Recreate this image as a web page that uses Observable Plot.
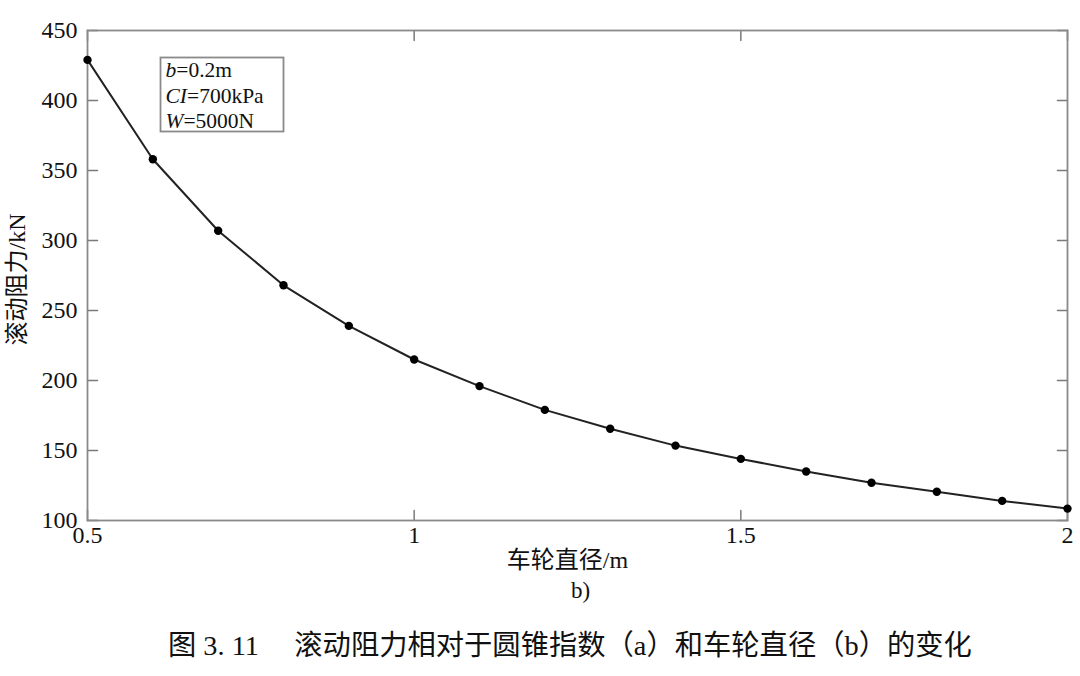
<!DOCTYPE html>
<html>
<head>
<meta charset="utf-8">
<script src="https://cdn.jsdelivr.net/npm/d3@7"></script>
<script src="https://cdn.jsdelivr.net/npm/@observablehq/plot@0.6"></script>
<style>
  body { margin: 0; background: #fff; }
  #chart svg { display: block; }
  #caption {
    font-family: "Liberation Serif", "Noto Sans CJK SC", serif;
    font-size: 28.3px;
    line-height: 30px;
    padding-top: 19px;
    padding-left: 168px;
    color: #111;
    white-space: pre;
  }
</style>
</head>
<body>
<div id="chart"></div>
<div id="caption"></div>
<script>
// ---- data ----
const diameters = [0.5, 0.6, 0.7, 0.8, 0.9, 1.0, 1.1, 1.2, 1.3, 1.4, 1.5, 1.6, 1.7, 1.8, 1.9, 2.0];
const resistance = [429, 358, 307, 268, 239, 215, 196, 179, 165.5, 153.5, 144, 135, 127, 120.5, 114, 108.5];
const xTicks = [0.5, 1, 1.5, 2];
const yTicks = [100, 150, 200, 250, 300, 350, 400, 450];
const xTickLabels = ["0.5", "1", "1.5", "2"];
const legendSymbols = ["b", "CI", "W"];
const legendValues = ["=0.2m", "=700kPa", "=5000N"];
const xLabel = "车轮直径/m";
const yLabel = "滚动阻力/kN";
const subLabel = "b)";
const captionText = "图 3. 11\u2003 滚动阻力相对于圆锥指数（a）和车轮直径（b）的变化";

const data = diameters.map((d, i) => ({d, f: resistance[i]}));
const serif = "Liberation Serif, Noto Sans CJK SC, serif";
const frameColor = "#8a8a8a";
const tickShape = {draw(context, l) { context.moveTo(0, 0); context.lineTo(0, -l); }};
const tickOpts = {length: 10, anchor: "start", shape: tickShape, stroke: "#7a7a7a", strokeWidth: 1.5};

const chart = Plot.plot({
  width: 1080,
  height: 612,
  marginLeft: 87,
  marginRight: 13,
  marginTop: 30,
  marginBottom: 92,
  style: {fontFamily: serif, fontSize: "24px", color: "#111", background: "#fff"},
  x: {domain: [0.5, 2]},
  y: {domain: [100, 450]},
  marks: [
    // inward ticks on all four sides
    Plot.vector(xTicks, {x: d => d, y: 100, rotate: 0, ...tickOpts}),
    Plot.vector(xTicks, {x: d => d, y: 450, rotate: 180, ...tickOpts}),
    Plot.vector(yTicks, {x: 0.5, y: d => d, rotate: 90, ...tickOpts}),
    Plot.vector(yTicks, {x: 2, y: d => d, rotate: -90, ...tickOpts}),
    Plot.frame({stroke: frameColor, strokeWidth: 1.8}),
    Plot.axisX(xTicks, {tickSize: 0, tickPadding: 5, fontSize: 24, label: null, tickFormat: (d, i) => xTickLabels[i]}),
    Plot.axisY(yTicks, {tickSize: 0, tickPadding: 10, fontSize: 24, label: null}),
    Plot.line(data, {x: "d", y: "f", stroke: "#222", strokeWidth: 2}),
    Plot.dot(data, {x: "d", y: "f", r: 4.2, fill: "#000", stroke: "none"}),
    // legend box
    Plot.frame({stroke: frameColor, strokeWidth: 1.8, insetLeft: 73, insetTop: 27, insetRight: 784, insetBottom: 389}),
    Plot.text([legendSymbols.map((s, i) => s + legendValues[i]).join("\n")], {
      frameAnchor: "top-left", dx: 78, dy: 29, textAnchor: "start", lineAnchor: "top",
      lineHeight: 1.17, fontSize: 21.5, fill: "#111", className: "legend-text"
    }),
    // axis titles
    Plot.text([yLabel], {frameAnchor: "left", dx: -70, dy: 4, rotate: -90, textAnchor: "middle", fontSize: 24, fill: "#111"}),
    Plot.text([xLabel], {frameAnchor: "bottom", dx: -10, dy: 47, textAnchor: "middle", fontSize: 24, fill: "#111"}),
    Plot.text([subLabel], {frameAnchor: "bottom", dx: 3, dy: 77, textAnchor: "middle", fontSize: 23, fill: "#111"})
  ]
});

// italicize the symbols in the legend
d3.select(chart).selectAll(".legend-text tspan").each(function(_, i) {
  const t = d3.select(this);
  t.text(null);
  t.append("tspan").attr("font-style", "italic").text(legendSymbols[i]);
  t.append("tspan").text(legendValues[i]);
});

document.getElementById("chart").appendChild(chart);
document.getElementById("caption").textContent = captionText;
</script>
</body>
</html>
